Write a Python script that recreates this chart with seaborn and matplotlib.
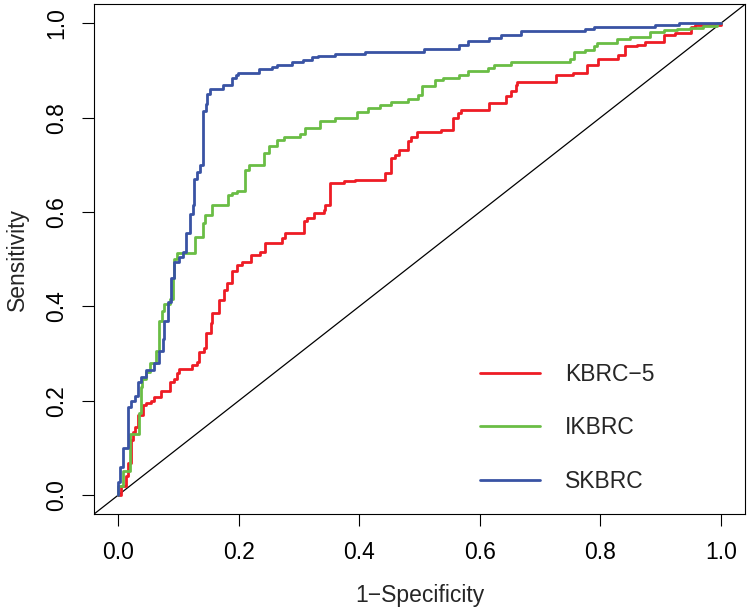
import pandas as pd
import matplotlib
matplotlib.use("Agg")
import matplotlib.pyplot as plt
import seaborn as sns

# -----------------------------
# DATA (ROC steps)
# -----------------------------
models = ["KBRC\u22125", "IKBRC", "SKBRC"]
colors = ["#EE1C25", "#6ABD45", "#3953A4"]

kbrc5_fpr = [0.0, 0.0, 0.005, 0.012, 0.016, 0.021, 0.024, 0.027, 0.032, 0.041, 0.046, 0.054, 0.06,
             0.071, 0.085, 0.093, 0.098, 0.101, 0.123, 0.131, 0.134, 0.142, 0.145, 0.154, 0.156,
             0.167, 0.175, 0.181, 0.189, 0.197, 0.206, 0.22, 0.236, 0.244, 0.272, 0.277, 0.308,
             0.313, 0.324, 0.341, 0.343, 0.352, 0.374, 0.393, 0.442, 0.453, 0.459, 0.466, 0.481,
             0.486, 0.495, 0.536, 0.555, 0.563, 0.569, 0.616, 0.643, 0.651, 0.66, 0.662, 0.726,
             0.755, 0.778, 0.797, 0.83, 0.841, 0.861, 0.874, 0.905, 0.924, 0.951, 0.957, 1.0]
kbrc5_tpr = [0.0, 0.0, 0.02, 0.04, 0.067, 0.117, 0.134, 0.145, 0.17, 0.19, 0.196, 0.20, 0.208,
             0.22, 0.24, 0.247, 0.258, 0.267, 0.276, 0.283, 0.304, 0.311, 0.343, 0.364, 0.385,
             0.414, 0.435, 0.45, 0.475, 0.488, 0.495, 0.509, 0.516, 0.534, 0.544, 0.555, 0.58,
             0.587, 0.597, 0.604, 0.615, 0.661, 0.665, 0.668, 0.682, 0.714, 0.721, 0.732, 0.75,
             0.76, 0.77, 0.774, 0.80, 0.81, 0.817, 0.831, 0.845, 0.857, 0.87, 0.875, 0.891,
             0.895, 0.912, 0.924, 0.933, 0.951, 0.954, 0.961, 0.976, 0.979, 0.993, 0.997, 1.0]

ikbrc_fpr = [0.0, 0.0, 0.008, 0.019, 0.035, 0.038, 0.04, 0.046, 0.052, 0.063, 0.068, 0.073, 0.076,
             0.085, 0.09, 0.093, 0.098, 0.128, 0.14, 0.144, 0.156, 0.182, 0.189, 0.197, 0.211,
             0.217, 0.241, 0.25, 0.263, 0.275, 0.302, 0.31, 0.335, 0.36, 0.396, 0.415, 0.434,
             0.453, 0.481, 0.497, 0.504, 0.525, 0.539, 0.566, 0.58, 0.613, 0.624, 0.651, 0.75,
             0.756, 0.775, 0.789, 0.795, 0.828, 0.849, 0.883, 0.905, 0.927, 0.949, 0.971, 0.993, 1.0]
ikbrc_tpr = [0.0, 0.02, 0.05, 0.13, 0.175, 0.23, 0.245, 0.26, 0.28, 0.305, 0.37, 0.39, 0.405,
             0.415, 0.46, 0.50, 0.513, 0.548, 0.576, 0.594, 0.615, 0.636, 0.64, 0.645, 0.69,
             0.70, 0.725, 0.74, 0.753, 0.76, 0.765, 0.778, 0.792, 0.80, 0.813, 0.82, 0.827,
             0.834, 0.84, 0.848, 0.868, 0.88, 0.885, 0.891, 0.898, 0.905, 0.912, 0.919, 0.924,
             0.94, 0.944, 0.951, 0.958, 0.966, 0.97, 0.981, 0.985, 0.988, 0.991, 0.995, 1.0, 1.0]

skbrc_fpr = [0.0, 0.0, 0.003, 0.007, 0.016, 0.021, 0.027, 0.032, 0.038, 0.046, 0.06, 0.068, 0.074,
             0.076, 0.082, 0.088, 0.093, 0.10, 0.107, 0.112, 0.119, 0.124, 0.126, 0.131, 0.135,
             0.14, 0.145, 0.148, 0.153, 0.173, 0.189, 0.195, 0.199, 0.233, 0.255, 0.263, 0.288,
             0.307, 0.321, 0.332, 0.36, 0.409, 0.508, 0.566, 0.58, 0.616, 0.635, 0.669, 0.775,
             0.79, 0.89, 0.93, 1.0]
skbrc_tpr = [0.0, 0.028, 0.06, 0.10, 0.187, 0.20, 0.21, 0.24, 0.25, 0.265, 0.28, 0.305, 0.33,
             0.37, 0.41, 0.46, 0.495, 0.505, 0.515, 0.555, 0.595, 0.615, 0.67, 0.685, 0.70,
             0.815, 0.83, 0.85, 0.86, 0.87, 0.885, 0.89, 0.895, 0.903, 0.908, 0.912, 0.919,
             0.923, 0.928, 0.931, 0.935, 0.94, 0.945, 0.955, 0.962, 0.969, 0.976, 0.983, 0.988,
             0.992, 0.997, 1.0, 1.0]

ticks = [0.0, 0.2, 0.4, 0.6, 0.8, 1.0]
tick_labels = ["0.0", "0.2", "0.4", "0.6", "0.8", "1.0"]

# -----------------------------
# long table for seaborn
# -----------------------------
frames = []
for name, fpr, tpr in zip(models, [kbrc5_fpr, ikbrc_fpr, skbrc_fpr], [kbrc5_tpr, ikbrc_tpr, skbrc_tpr]):
    frames.append(pd.DataFrame({"model": name, "fpr": fpr, "tpr": tpr}))
df = pd.concat(frames, ignore_index=True)

sns.set_theme(style="white")
plt.rcParams["font.family"] = ["Liberation Sans Narrow", "Liberation Sans", "DejaVu Sans"]
plt.rcParams["axes.unicode_minus"] = True

fig = plt.figure(figsize=(7.5, 6.1), dpi=100)
ax = fig.add_axes([0.1256, 0.1575, 0.8676, 0.8352])

sns.lineplot(data=df, x="fpr", y="tpr", hue="model", palette=dict(zip(models, colors)),
             estimator=None, sort=False, drawstyle="steps-post", linewidth=2.0,
             legend=False, ax=ax)

handles = list(ax.lines[:3])
ax.axline((0, 0), slope=1, color="black", linewidth=0.9, zorder=1)

ax.set_xlim(-0.04, 1.04)
ax.set_ylim(-0.04, 1.04)
ax.set_xticks(ticks)
ax.set_xticklabels(tick_labels)
ax.set_yticks(ticks)
ax.set_yticklabels(tick_labels, rotation=90, va="center")

for sp in ax.spines.values():
    sp.set_visible(True)
    sp.set_color("black")
    sp.set_linewidth(0.8)

ax.tick_params(axis="both", which="major", direction="out", length=8.5, width=0.8,
               color="black", labelsize=16.5, labelcolor="black", bottom=True, left=True)
ax.tick_params(axis="x", pad=11)
ax.tick_params(axis="y", pad=10)

ax.set_xlabel("1\u2212Specificity", fontsize=16.5, va="center")
ax.set_ylabel("Sensitivity", fontsize=16.5, va="center")
ax.xaxis.set_label_coords(0.5, -0.16)
ax.yaxis.set_label_coords(-0.1186, 0.5)

ax.legend(handles=handles, labels=models, loc="center left",
          bbox_to_anchor=(480 / 750, 1 - 428 / 610), bbox_transform=fig.transFigure,
          frameon=False, fontsize=16.5, handlelength=2.6, handletextpad=1.1,
          labelspacing=1.33, borderpad=0, borderaxespad=0)

fig.savefig("out.png", dpi=100)
